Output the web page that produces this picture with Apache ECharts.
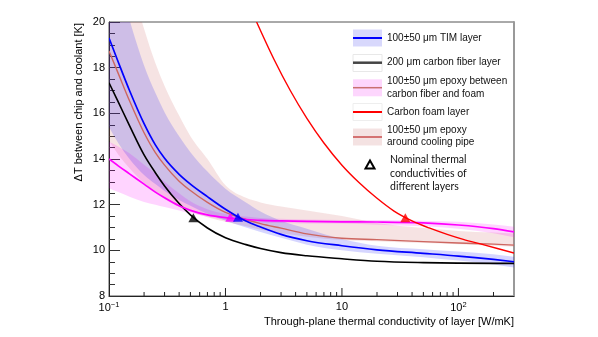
<!DOCTYPE html>
<html><head><meta charset="utf-8">
<script src="https://cdn.jsdelivr.net/npm/echarts@6/dist/echarts.min.js"></script>
<style>html,body{margin:0;padding:0;background:#fff}#c{width:598px;height:337px}</style>
</head><body><div id="c"></div>
<script>
// ---- data ----
const kGrid = [0.1,0.12,0.15,0.2,0.25,0.3,0.4,0.5,0.7,1,1.5,2,3,5,10,20,50,100,200,300];
const timT   = [19.3,18.25,17.0,15.55,14.62,14.03,13.33,12.9,12.35,11.8,11.28,11.02,10.7,10.42,10.2,10.02,9.87,9.75,9.6,9.5];
const timHi  = [23.5,21.9,20.1,18.1,16.9,16.05,15.0,14.3,13.45,12.7,12.1,11.7,11.3,10.95,10.5,10.2,10.05,9.95,9.83,9.72];
const timLo  = [15.4,14.7,14.0,13.3,12.9,12.6,12.2,11.95,11.6,11.3,11.0,10.8,10.55,10.25,10.0,9.85,9.7,9.55,9.38,9.25];
const cfT    = [17.34,16.5,15.46,14.18,13.4,12.82,12.05,11.55,10.98,10.55,10.25,10.08,9.9,9.76,9.63,9.52,9.46,9.44,9.43,9.43];
const epoT   = [14.0,13.7,13.35,12.9,12.55,12.3,11.95,11.75,11.55,11.43,11.35,11.31,11.29,11.27,11.25,11.24,11.2,11.11,10.95,10.81];
const epoHi  = [14.76,14.55,14.25,13.75,13.37,13.0,12.5,12.15,11.8,11.6,11.48,11.42,11.38,11.35,11.33,11.33,11.3,11.25,11.13,11.03];
const epoLo  = [12.72,12.55,12.35,12.12,12.0,11.9,11.75,11.62,11.47,11.33,11.25,11.22,11.2,11.18,11.17,11.12,11.05,10.95,10.75,10.57];
const pipeT  = [18.73,17.75,16.55,15.15,14.28,13.73,13.03,12.62,12.1,11.66,11.35,11.17,10.97,10.72,10.53,10.47,10.38,10.32,10.27,10.23];
const pipeHi = [26,24,22,19.7,18.2,17.2,15.9,15.0,14.0,12.85,12.3,12.1,11.92,11.75,11.5,11.2,10.98,10.85,10.78,10.74];
const pipeLo = [14.8,14.2,13.6,12.95,12.55,12.25,11.9,11.7,11.45,11.25,11.05,10.9,10.75,10.6,10.45,10.4,10.32,10.27,10.2,10.16];
const kFoam  = [1.85,2.6,3.6,5,7,10,14,20,28,40,56,80,110,160,220,300];
const foamT  = [20.0,18.38,17.0,15.78,14.7,13.73,12.97,12.28,11.72,11.29,10.98,10.7,10.48,10.26,10.07,9.88];
const nominalK = [0.53,1.1,1.28,35];
const nominalT = [11.43,11.45,11.45,11.43];
const nominalColor = ['#000000','#ff00ff','#0000ff','#ff0000'];
const xMajorTicks = [1,10,100];
const xMinorTicks = [0.2,0.3,0.4,0.5,0.6,0.7,0.8,0.9,2,3,4,5,6,7,8,9,20,30,40,50,60,70,80,90,200];
const yTicks = {min:8, max:20, interval:2};

const FONT = 'Liberation Sans, Arial, Helvetica, sans-serif';
const chart = echarts.init(document.getElementById('c'), null, {renderer:'canvas'});

// monotone cubic (in pixel x) through pixel points -> bezier commands
function sgn(v){ return v<0?-1:(v>0?1:0); }
function monoPath(pts){
  const n=pts.length, m=new Array(n);
  const s=[], h=[];
  for(let i=0;i<n-1;i++){ h[i]=pts[i+1][0]-pts[i][0]; s[i]=(pts[i+1][1]-pts[i][1])/h[i]; }
  for(let i=1;i<n-1;i++){
    const p=(s[i-1]*h[i]+s[i]*h[i-1])/(h[i-1]+h[i]);
    m[i]=(sgn(s[i-1])+sgn(s[i]))*Math.min(Math.abs(s[i-1]),Math.abs(s[i]),0.5*Math.abs(p))||0;
  }
  m[0]=n>2?(3*s[0]-m[1])/2:s[0];
  m[n-1]=n>2?(3*s[n-2]-m[n-2])/2:s[n-2];
  let d='';
  for(let i=0;i<n-1;i++){
    const dx=h[i]/3;
    d+=' C'+(pts[i][0]+dx)+' '+(pts[i][1]+m[i]*dx)+' '+(pts[i+1][0]-dx)+' '+(pts[i+1][1]-m[i+1]*dx)+' '+pts[i+1][0]+' '+pts[i+1][1];
  }
  return d;
}
function clipRect(cs){ return {type:'rect', shape:{x:cs.x,y:cs.y,width:cs.width,height:cs.height}}; }
function bandSeries(hi, lo, color){
  return {
    type:'custom', coordinateSystem:'cartesian2d', silent:true, clip:true, z:1,
    data:[[1,10]],
    renderItem:function(params, api){
      const up = kGrid.map((k,i)=>api.coord([k,hi[i]]));
      const dn = kGrid.map((k,i)=>api.coord([k,lo[i]])).reverse();
      const d = 'M'+up[0][0]+' '+up[0][1]+monoPath(up)+' L'+dn[0][0]+' '+dn[0][1]+monoPath(dn)+' Z';
      return {type:'path', shape:{pathData:d}, style:{fill:color, stroke:null}, clipPath:clipRect(params.coordSys)};
    }
  };
}
function lineSeries(ks, vals, color, w){
  return {
    type:'custom', coordinateSystem:'cartesian2d', silent:true, clip:true, z:3,
    data:[[1,10]],
    renderItem:function(params, api){
      const p = ks.map((k,i)=>api.coord([k,vals[i]]));
      const d = 'M'+p[0][0]+' '+p[0][1]+monoPath(p);
      return {type:'path', shape:{pathData:d}, style:{fill:null, stroke:color, lineWidth:w}, clipPath:clipRect(params.coordSys)};
    }
  };
}
function tickSeries(vals, len){
  return {type:'custom', coordinateSystem:'cartesian2d', silent:true, z:5,
    data: vals.map(v=>[v, yTicks.min]),
    renderItem:function(params, api){
      const p = api.coord([api.value(0), api.value(1)]);
      return {type:'line', shape:{x1:p[0],y1:p[1],x2:p[0],y2:p[1]-len}, style:{stroke:'#222', lineWidth:1}};
    }};
}

const LF = '10px '+FONT;
const legendTxt = (x,y,t)=>({type:'text', x:x, y:y, style:{text:t, font:LF, fill:'#111', verticalAlign:'middle', align:'left'}});
const NF = '10.5px Lato, '+FONT;
const graphic = [
  {type:'text', x:79, y:23, rotation:Math.PI/2, style:{text:'\u0394T between chip and coolant [K]', font:'11px '+FONT, fill:'#000', align:'right', verticalAlign:'middle'}},
  {type:'text', x:514, y:322, style:{text:'Through-plane thermal conductivity of layer [W/mK]', font:'11px '+FONT, fill:'#000', align:'right', verticalAlign:'middle'}},
  // legend
  {type:'rect', shape:{x:353,y:29.5,width:29,height:17}, style:{fill:'#d8d8fc'}},
  {type:'line', shape:{x1:353,y1:38,x2:382,y2:38}, style:{stroke:'#0000ff', lineWidth:2}},
  legendTxt(387,38,'100\u00b150 \u03bcm TIM layer'),
  {type:'rect', shape:{x:353,y:54.5,width:29,height:17}, style:{fill:'#fff', stroke:'#e8e8e8', lineWidth:1}},
  {type:'line', shape:{x1:353,y1:62.7,x2:382,y2:62.7}, style:{stroke:'#444', lineWidth:2.5}},
  legendTxt(387,62.7,'200 \u03bcm carbon fiber layer'),
  {type:'rect', shape:{x:353,y:79.3,width:29,height:17}, style:{fill:'#fdd6fd'}},
  {type:'line', shape:{x1:353,y1:87.7,x2:382,y2:87.7}, style:{stroke:'#c87070', lineWidth:1.5}},
  legendTxt(387,81.7,'100\u00b150 \u03bcm epoxy between'),
  legendTxt(387,94.3,'carbon fiber and foam'),
  {type:'rect', shape:{x:353,y:103.5,width:29,height:17}, style:{fill:'#fff', stroke:'#eeeeee', lineWidth:1}},
  {type:'line', shape:{x1:353,y1:112,x2:382,y2:112}, style:{stroke:'#ff0000', lineWidth:2}},
  legendTxt(387,112,'Carbon foam layer'),
  {type:'rect', shape:{x:353,y:128.5,width:29,height:17}, style:{fill:'#f4e2e2'}},
  {type:'line', shape:{x1:353,y1:137,x2:382,y2:137}, style:{stroke:'#d47272', lineWidth:2}},
  legendTxt(387,130,'100\u00b150 \u03bcm epoxy'),
  legendTxt(387,142.5,'around cooling pipe'),
  {type:'polygon', shape:{points:[[370,160.5],[365.5,168.5],[374.5,168.5]]}, style:{fill:'#fff', stroke:'#000', lineWidth:2}},
  {type:'text', x:390, y:160, style:{text:'Nominal thermal', font:NF, fill:'#111', verticalAlign:'middle'}},
  {type:'text', x:390, y:173.5, style:{text:'conductivities of', font:NF, fill:'#111', verticalAlign:'middle'}},
  {type:'text', x:390, y:187, style:{text:'different layers', font:NF, fill:'#111', verticalAlign:'middle'}}
];

const option = {
  animation:false,
  backgroundColor:'#fff',
  grid:{left:109, right:84, top:22, bottom:41, show:true, borderColor:'#555', borderWidth:1, backgroundColor:'transparent'},
  xAxis:{type:'log', logBase:10, min:0.1, max:300,
    axisLine:{show:true, lineStyle:{color:'#222', width:1}},
    axisTick:{show:false}, splitLine:{show:false}, minorTick:{show:false}, minorSplitLine:{show:false},
    axisLabel:{margin:5, color:'#000', fontSize:11, fontFamily:FONT, showMaxLabel:false,
      formatter:function(v){
        const l=Math.log10(v), e=Math.round(l);
        if(Math.abs(l-e)>1e-6) return '';
        if(e===0) return '1';
        if(e===1) return '10';
        return '10{s|'+(e<0?'\u22121':String(e))+'}';
      },
      rich:{s:{fontSize:7.5, fontFamily:FONT, color:'#000', verticalAlign:'top', padding:[0,0,6,0]}}
    }},
  yAxis:[{type:'value', min:yTicks.min, max:yTicks.max, interval:yTicks.interval,
    axisLine:{show:true, lineStyle:{color:'#222', width:1}},
    axisTick:{show:true, inside:true, length:11, lineStyle:{color:'#333'}},
    minorTick:{show:true, splitNumber:4, length:6, lineStyle:{color:'#333'}},
    splitLine:{show:false},
    axisLabel:{margin:4, color:'#000', fontSize:11, fontFamily:FONT}},
   {type:'value', position:'right', min:yTicks.min, max:yTicks.max,
    axisLine:{show:true, lineStyle:{color:'#999', width:2}}, axisTick:{show:false}, axisLabel:{show:false}, splitLine:{show:false}}],
  graphic:graphic,
  series:[
    bandSeries(pipeHi, pipeLo, 'rgba(200,90,90,0.17)'),
    bandSeries(epoHi, epoLo, 'rgba(255,0,255,0.17)'),
    bandSeries(timHi, timLo, 'rgba(0,0,255,0.16)'),
    lineSeries(kGrid, cfT, '#000000', 1.6),
    lineSeries(kGrid, pipeT, '#cd6660', 1.4),
    lineSeries(kGrid, epoT, '#ff00ff', 1.7),
    lineSeries(kGrid, timT, '#0000ff', 1.7),
    lineSeries(kFoam, foamT, '#ff0000', 1.4),
    {type:'scatter', symbol:'triangle', symbolSize:[10,9], z:6, silent:true,
      data:nominalK.map((k,i)=>({value:[k,nominalT[i]], itemStyle:{color:nominalColor[i]}}))},
    tickSeries(xMajorTicks, 8),
    tickSeries(xMinorTicks, 4)
  ]
};
chart.setOption(option);
</script></body></html>
